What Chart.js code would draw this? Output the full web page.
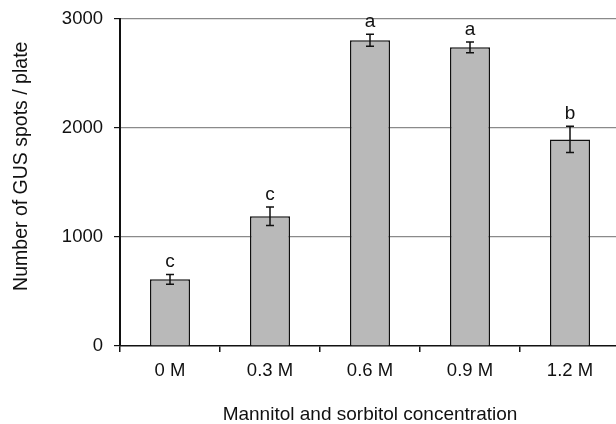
<!DOCTYPE html>
<html>
<head>
<meta charset="utf-8">
<script src="https://cdn.jsdelivr.net/npm/chart.js@4"></script>
<style>
  html, body { margin: 0; padding: 0; background: #fff; overflow: hidden; }
  #wrap { width: 620px; height: 424px; position: relative; }
</style>
</head>
<body>
<div id="wrap"><canvas id="gusChart"></canvas></div>
<script>
// Values
const categories = ['0 M', '0.3 M', '0.6 M', '0.9 M', '1.2 M'];
const spots = [612, 1190, 2805, 2740, 1895];
const errors = [45, 85, 55, 50, 120];
const letters = ['c', 'c', 'a', 'a', 'b'];
const yTicks = [0, 1000, 2000, 3000];

const FONT = '"Liberation Sans", Arial, sans-serif';

// error bars + significance letters
const errorBars = {
    id: 'errorBars',
    afterDatasetsDraw(chart) {
        const ctx = chart.ctx;
        const y = chart.scales.y;
        const bars = chart.getDatasetMeta(0).data;
        ctx.save();
        ctx.strokeStyle = '#111';
        ctx.lineWidth = 1.5;
        bars.forEach((bar, i) => {
            const top = y.getPixelForValue(spots[i] + errors[i]);
            const bottom = y.getPixelForValue(spots[i] - errors[i]);
            ctx.beginPath();
            ctx.moveTo(bar.x, top);
            ctx.lineTo(bar.x, bottom);
            ctx.moveTo(bar.x - 4, top);
            ctx.lineTo(bar.x + 4, top);
            ctx.moveTo(bar.x - 4, bottom);
            ctx.lineTo(bar.x + 4, bottom);
            ctx.stroke();

            ctx.fillStyle = '#111';
            ctx.font = '19px ' + FONT;
            ctx.textAlign = 'center';
            ctx.textBaseline = 'alphabetic';
            ctx.fillText(letters[i], bar.x, top - 7);
        });
        ctx.restore();
    }
};

const ctx = document.getElementById('gusChart').getContext('2d');
new Chart(ctx, {
    type: 'bar',
    data: {
        labels: categories,
        datasets: [{
            data: spots,
            backgroundColor: '#b9b9b9',
            borderColor: '#111',
            borderWidth: 1.5,
            barPercentage: 0.4,
            categoryPercentage: 1.0
        }]
    },
    options: {
        responsive: true,
        maintainAspectRatio: false,
        animation: false,
        layout: { padding: { top: 19, right: 0, left: 0, bottom: 0 } },
        plugins: {
            legend: { display: false },
            tooltip: { enabled: false }
        },
        scales: {
            x: {
                afterFit: s => { s.height = 78; s.paddingLeft = 0; s.paddingRight = 0; },
                grid: {
                    offset: true,
                    drawOnChartArea: false,
                    tickLength: 6,
                    tickColor: '#111',
                    lineWidth: 1.5
                },
                border: { color: '#111', width: 1.5 },
                ticks: { color: '#111', padding: 8, font: { family: FONT, size: 18.5 } },
                title: {
                    display: true,
                    text: 'Mannitol and sorbitol concentration',
                    color: '#111',
                    font: { family: FONT, size: 19, lineHeight: 1 },
                    padding: { top: 0, bottom: 0 }
                }
            },
            y: {
                min: 0,
                max: 3000,
                afterFit: s => { s.width = 120; s.paddingTop = 0; s.paddingBottom = 0; },
                afterBuildTicks: s => { s.ticks = yTicks.map(v => ({ value: v })); },
                grid: {
                    color: c => (c.tick && c.tick.value === 0 ? 'rgba(0,0,0,0)' : '#8a8a8a'),
                    lineWidth: 1.2,
                    tickLength: 6,
                    tickColor: '#111'
                },
                border: { color: '#111', width: 2 },
                ticks: {
                    color: '#111',
                    padding: 11,
                    font: { family: FONT, size: 18.5 },
                    callback: v => String(v)
                },
                title: {
                    display: true,
                    // leading spaces nudge the label up, as in the original figure
                    text: '      Number of GUS spots / plate',
                    color: '#111',
                    font: { family: FONT, size: 19.5 },
                    padding: { top: 10, bottom: 0 }
                }
            }
        }
    },
    plugins: [errorBars]
});
</script>
</body>
</html>
